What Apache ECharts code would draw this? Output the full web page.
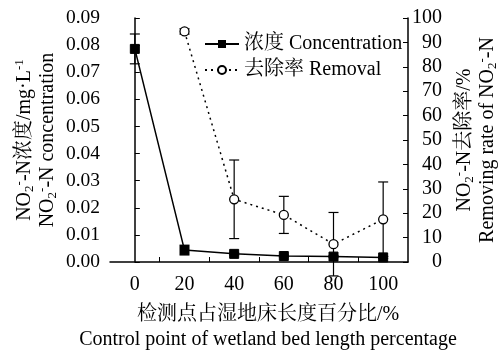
<!DOCTYPE html>
<html><head><meta charset="utf-8">
<script src="https://cdn.jsdelivr.net/npm/echarts@6/dist/echarts.min.js"></script>
<style>html,body{margin:0;padding:0;background:#fff}#c{width:498px;height:351px}</style>
</head><body><div id="c"></div>
<script>
const positions = [0, 20, 40, 60, 80, 100];
const concentration = [0.0786, 0.0044, 0.0030, 0.0022, 0.0020, 0.0017];
const concentrationErr = [0.0055, 0.0018, 0.0004, 0.0003, 0.0004, 0.0004];
const removalPositions = [20, 40, 60, 80, 100];
const removal = [94.5, 25.7, 19.3, 7.3, 17.5];
const removalErr = [1.1, 16.1, 7.6, 13.0, 15.3];
const xLabels = [0, 20, 40, 60, 80, 100];
const xMinorTicks = [10, 30, 50, 70, 90];

const FONT = "'Liberation Serif','Times New Roman','Noto Serif CJK SC','Noto Sans CJK SC',serif";
const FS = 20;
const chart = echarts.init(document.getElementById('c'));

function errRender(params, api) {
  const x = api.value(0), y = api.value(1), e = api.value(2);
  const top = api.coord([x, y + e]);
  const bot = api.coord([x, y - e]);
  const hw = 5;
  const st = { stroke: '#000', lineWidth: 1.2 };
  return { type: 'group', children: [
    { type: 'line', shape: { x1: top[0], y1: top[1], x2: bot[0], y2: bot[1] }, style: st },
    { type: 'line', shape: { x1: top[0] - hw, y1: top[1], x2: top[0] + hw, y2: top[1] }, style: st },
    { type: 'line', shape: { x1: bot[0] - hw, y1: bot[1], x2: bot[0] + hw, y2: bot[1] }, style: st }
  ]};
}

const richSty = {
  n: { fontFamily: FONT, fontSize: FS, color: '#000' },
  sub: { fontFamily: FONT, fontSize: 13, color: '#000', verticalAlign: 'bottom', padding: [7, 0, 0, 0] },
  sup: { fontFamily: FONT, fontSize: 13, color: '#000', verticalAlign: 'top', padding: [0, 0, 7, 0] }
};

chart.setOption({
  animation: false,
  grid: { left: 110, right: 90, top: 18, bottom: 89, outerBoundsMode: 'none', containLabel: false },
  legend: {
    orient: 'vertical', left: 199, top: 29, itemGap: 6, itemWidth: 34, itemHeight: 10,
    textStyle: { fontFamily: FONT, fontSize: FS, color: '#000' },
    data: ['浓度 Concentration', '去除率 Removal']
  },
  xAxis: {
    type: 'value', min: -10, max: 110, interval: 10,
    axisLine: { show: true, lineStyle: { color: '#000', width: 1.5 } },
    axisTick: { show: true, inside: true, length: 5, customValues: xMinorTicks, lineStyle: { color: '#000' } },
    axisLabel: { customValues: xLabels, margin: 13, fontFamily: FONT, fontSize: FS, color: '#000' },
    splitLine: { show: false },
    name: '检测点占湿地床长度百分比/%\nControl point of wetland bed length percentage',
    nameLocation: 'middle', nameGap: 40,
    nameTextStyle: { fontFamily: FONT, fontSize: FS, color: '#000', lineHeight: 25, padding: [0, 0, 0, 18] }
  },
  yAxis: [{
    type: 'value', min: 0, max: 0.09, interval: 0.01,
    axisLine: { show: true, lineStyle: { color: '#000', width: 1.5 } },
    axisTick: { show: true, inside: true, length: 5, lineStyle: { color: '#000' } },
    axisLabel: { margin: 10, fontFamily: FONT, fontSize: 19.5, color: '#000', formatter: v => v.toFixed(2) },
    splitLine: { show: false },
    name: '{n|NO}{sub|2}{sup|-}{n|-N浓度/mg·L}{sup|-1}\n{n|NO}{sub|2}{sup|-}{n|-N concentration}',
    nameLocation: 'middle', nameRotate: 90, nameGap: 51, nameMoveOverlap: false,
    nameTextStyle: { lineHeight: 23, rich: richSty }
  }, {
    type: 'value', min: 0, max: 100, interval: 10, position: 'right',
    axisLine: { show: true, lineStyle: { color: '#000', width: 1.5 } },
    axisTick: { show: true, inside: true, length: 5, lineStyle: { color: '#000' } },
    axisLabel: { margin: 34, align: 'right', fontFamily: FONT, fontSize: FS, color: '#000' },
    splitLine: { show: false },
    name: '{n|NO}{sub|2}{sup|-}{n|-N去除率/%}\n{n|Removing rate of NO}{sub|2}{sup|-}{n|-N}',
    nameLocation: 'middle', nameRotate: 90, nameGap: 41,
    nameTextStyle: { lineHeight: 23, rich: richSty }
  }],
  series: [{
    type: 'custom', name: 'concErr', yAxisIndex: 0, z: 1, clip: false,
    renderItem: errRender,
    data: positions.map((p, i) => [p, concentration[i], concentrationErr[i]])
  }, {
    type: 'custom', name: 'remErr', yAxisIndex: 1, z: 1, clip: false,
    renderItem: errRender,
    data: removalPositions.map((p, i) => [p, removal[i], removalErr[i]])
  }, {
    type: 'line', name: '浓度 Concentration', yAxisIndex: 0, z: 3,
    symbol: 'rect', symbolSize: 9,
    itemStyle: { color: '#000', borderColor: '#000' },
    lineStyle: { color: '#000', width: 1.5 },
    data: positions.map((p, i) => [p, concentration[i]])
  }, {
    type: 'line', name: '去除率 Removal', yAxisIndex: 1, z: 3,
    symbol: 'circle', symbolSize: 9, showAllSymbol: true,
    itemStyle: { color: '#fff', borderColor: '#000', borderWidth: 1.3 },
    lineStyle: { color: '#000', width: 1.5, type: [2, 4] },
    data: removalPositions.map((p, i) => [p, removal[i]])
  }]
});
</script></body></html>
